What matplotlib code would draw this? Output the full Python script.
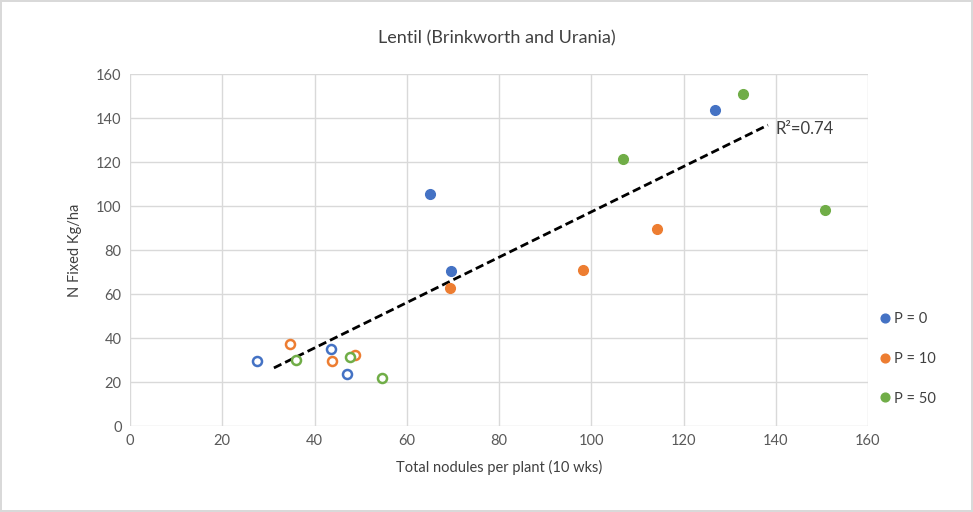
import matplotlib.pyplot as plt

plt.rcParams['font.family'] = ['Lato', 'DejaVu Sans']

# filled points (one per treatment level)
p0_x = [65.0, 69.6, 126.8]
p0_y = [105.5, 70.5, 143.6]
p10_x = [69.4, 98.2, 114.3]
p10_y = [62.7, 70.9, 89.5]
p50_x = [106.9, 132.9, 150.7]
p50_y = [121.4, 150.9, 98.2]

# open points
p0_open_x = [27.5, 43.6, 47.1]
p0_open_y = [29.4, 34.8, 23.6]
p10_open_x = [34.7, 43.7, 48.8]
p10_open_y = [37.1, 29.4, 32.3]
p50_open_x = [35.9, 47.7, 54.6]
p50_open_y = [30.0, 31.2, 21.8]

# trend line end points and label
trend_x = [31.2, 138.3]
trend_y = [26.4, 136.8]
r2_label = 'R²=0.74'

labels = ['P = 0', 'P = 10', 'P = 50']
colors = ['#4472C4', '#ED7D31', '#70AD47']

fig = plt.figure(figsize=(9.73, 5.12), dpi=100)
fig.patch.set_edgecolor('#d9d9d9')
fig.patch.set_linewidth(1.5)
ax = fig.add_axes([130 / 973, 1 - 426 / 512, 738 / 973, 352 / 512])

filled = [(p0_x, p0_y), (p10_x, p10_y), (p50_x, p50_y)]
opened = [(p0_open_x, p0_open_y), (p10_open_x, p10_open_y), (p50_open_x, p50_open_y)]

for (xs, ys), c, lab in zip(filled, colors, labels):
    ax.plot(xs, ys, 'o', color=c, markersize=7, label=lab, zorder=3)
for (xs, ys), c in zip(opened, colors):
    ax.plot(xs, ys, 'o', markerfacecolor='white', markeredgecolor=c,
            markeredgewidth=1.8, markersize=6.5, zorder=3)

ax.plot(trend_x, trend_y, '--', color='black', linewidth=2, dashes=(3, 1.5), zorder=2)
ax.text(trend_x[1] + 1.6, trend_y[1] - 2, r2_label, fontsize=12, color='#404040',
        va='center', ha='left')

ax.set_xlim(0, 160)
ax.set_ylim(0, 160)
ax.set_xticks(range(0, 161, 20))
ax.set_yticks(range(0, 161, 20))
ax.grid(True, color='#d9d9d9', linewidth=1)
ax.set_axisbelow(True)
for s in ax.spines.values():
    s.set_visible(False)
ax.tick_params(length=0, labelsize=10.5, colors='#595959', pad=6)

ax.set_xlabel('Total nodules per plant (10 wks)', fontsize=10.5, color='#404040', labelpad=8)
ax.set_ylabel('N Fixed Kg/ha', fontsize=10.5, color='#404040', labelpad=10)
fig.text(497 / 973, 1 - 38 / 512, 'Lentil (Brinkworth and Urania)', fontsize=13,
         color='#404040', ha='center', va='center')

fig.legend(loc='center left', bbox_to_anchor=(863 / 973, 1 - 359 / 512), frameon=False,
           fontsize=10.5, labelspacing=1.75, handletextpad=0.05, handlelength=1.2,
           markerscale=0.9, labelcolor='#404040')

fig.savefig('out.png', dpi=100)
